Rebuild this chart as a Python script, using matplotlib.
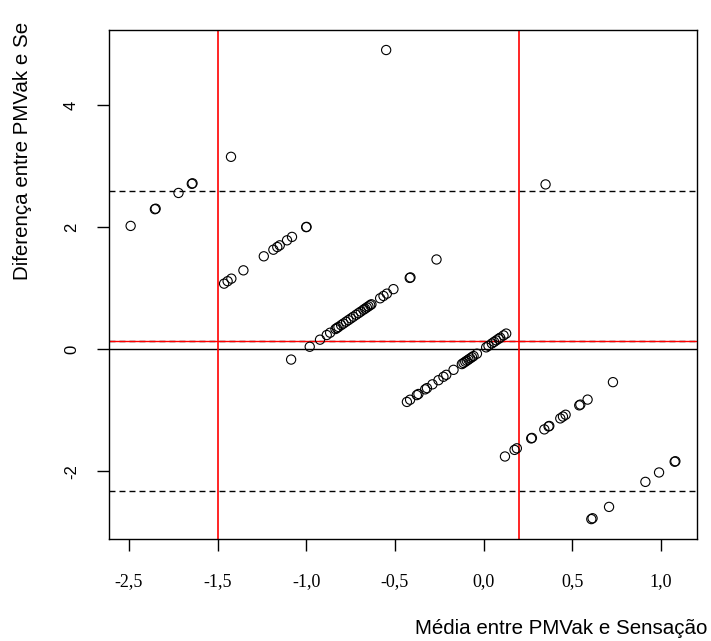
import matplotlib
matplotlib.use("Agg")
from matplotlib import pyplot as plt
import numpy as np

# Bland-Altman: media x diferenca (PMVak - Sensacao)
media = [
    # sensacao = -3
    -1.99, -1.853, -1.849, -1.72, -1.645, -1.641, -1.424, -0.549,
    # sensacao = -2
    -1.463, -1.443, -1.422, -1.354, -1.239, -1.185, -1.163, -1.149,
    -1.108, -1.08, -1.0, -0.998,
    # sensacao = -1
    -1.085, -0.98, -0.922, -0.884, -0.865, -0.835, -0.827, -0.818,
    -0.803, -0.790, -0.775, -0.762, -0.748, -0.734, -0.718, -0.705,
    -0.692, -0.677, -0.668, -0.658, -0.649, -0.639, -0.632, -0.583,
    -0.564, -0.545, -0.508, -0.416, -0.412, -0.265, 0.35,
    # sensacao = 0
    -0.432, -0.414, -0.376, -0.367, -0.329, -0.319, -0.288, -0.254,
    -0.226, -0.210, -0.169, -0.122, -0.113, -0.103, -0.094, -0.085,
    -0.075, -0.065, -0.056, -0.037, 0.015, 0.028, 0.047, 0.060,
    0.072, 0.085, 0.094, 0.113, 0.128,
    # sensacao = 1
    0.121, 0.175, 0.188, 0.269, 0.273, 0.343, 0.367, 0.371,
    0.433, 0.448, 0.463, 0.540, 0.546, 0.587, 0.730,
    # sensacao = 2
    0.608, 0.615, 0.708, 0.913, 0.990, 1.078, 1.082,
]
diferenca = [
    2.02, 2.294, 2.302, 2.56, 2.71, 2.718, 3.152, 4.902,
    1.074, 1.114, 1.156, 1.292, 1.522, 1.63, 1.674, 1.702,
    1.784, 1.84, 2.0, 2.004,
    -0.17, 0.04, 0.156, 0.232, 0.27, 0.33, 0.346, 0.364,
    0.394, 0.42, 0.45, 0.476, 0.504, 0.532, 0.564, 0.59,
    0.616, 0.646, 0.664, 0.684, 0.702, 0.722, 0.736, 0.834,
    0.872, 0.91, 0.984, 1.168, 1.176, 1.47, 2.70,
    -0.864, -0.828, -0.752, -0.734, -0.658, -0.638, -0.576, -0.508,
    -0.452, -0.42, -0.338, -0.244, -0.226, -0.206, -0.188, -0.17,
    -0.15, -0.13, -0.112, -0.074, 0.03, 0.056, 0.094, 0.12,
    0.144, 0.17, 0.188, 0.226, 0.256,
    -1.758, -1.65, -1.624, -1.462, -1.454, -1.314, -1.266, -1.258,
    -1.134, -1.104, -1.074, -0.92, -0.908, -0.826, -0.54,
    -2.784, -2.77, -2.584, -2.174, -2.02, -1.844, -1.836,
]

media_dif = 0.13
lim_sup = 2.59
lim_inf = -2.33
cortes_x = [-1.5, 0.2]

xticks = [-2.0, -1.5, -1.0, -0.5, 0.0, 0.5, 1.0]
xticklabels = ["-2,5", "-1,5", "-1,0", "-0,5", "0,0", "0,5", "1,0"]
yticks = [-2, 0, 2, 4]

fig = plt.figure(figsize=(7.11, 6.41), dpi=100)
ax = fig.add_axes([109 / 711, 1 - 539 / 641, (697 - 109) / 711, (539 - 30) / 641])

ax.scatter(media, diferenca, s=44, facecolors="none", edgecolors="black",
           linewidths=0.8, zorder=3)

ax.axhline(0, color="black", lw=1.0)
ax.axhline(media_dif, color="black", lw=1.0, dashes=(4.3, 2.9))
ax.axhline(media_dif, color="red", lw=1.0)
ax.axhline(lim_sup, color="black", lw=1.0, dashes=(4.3, 2.9))
ax.axhline(lim_inf, color="black", lw=1.0, dashes=(4.3, 2.9))
for xc in cortes_x:
    ax.axvline(xc, color="red", lw=1.2)

ax.set_xlim(-2.112, 1.204)
ax.set_ylim(-3.11, 5.23)

ax.set_xticks(xticks)
ax.set_xticklabels(xticklabels, family="Liberation Serif", fontsize=13)
ax.set_yticks(yticks)
ax.set_yticklabels([str(v) for v in yticks], family="Liberation Sans",
                   fontsize=12, rotation=90, va="center")
ax.tick_params(axis="x", length=8.6, width=1.0, pad=16)
ax.tick_params(axis="y", length=8.6, width=1.0, pad=13)
for sp in ax.spines.values():
    sp.set_linewidth(1.0)

fig.text(707 / 711, 1 - 634 / 641, "Média entre PMVak e Sensação",
         ha="right", va="baseline", family="Liberation Sans", fontsize=14.8)
fig.text(23 / 711, 1 - 151 / 641, "Diferença entre PMVak e Se",
         ha="center", va="center", rotation=90,
         family="Liberation Sans", fontsize=14.8)

fig.savefig("out.png", dpi=100)
